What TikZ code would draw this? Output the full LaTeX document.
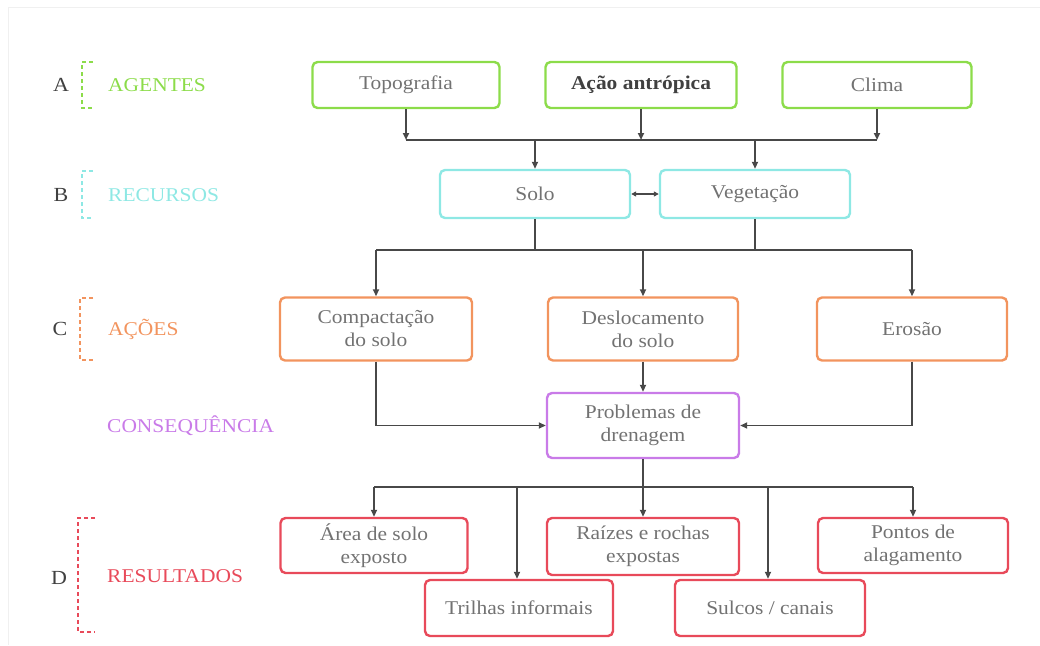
\documentclass[tikz,border=0pt]{standalone}
\usepackage{fontspec}
\setmainfont{Liberation Serif}[FakeStretch=1.1]
\usetikzlibrary{arrows.meta}
\definecolor{cgreen}{HTML}{8CDC4A}
\definecolor{ccyan}{HTML}{8EE8E4}
\definecolor{corange}{HTML}{F2945E}
\definecolor{cpurple}{HTML}{C97BE8}
\definecolor{cred}{HTML}{E84A5A}
\definecolor{ctext}{HTML}{727272}
\definecolor{cline}{HTML}{484848}
\definecolor{cletter}{HTML}{404040}
\tikzset{
  box/.style={draw, line width=2.4pt, rounded corners=5pt, align=center, text=ctext,
    font=\fontsize{19.5}{23}\selectfont, inner sep=0pt, minimum width=190pt},
  ln/.style={draw=cline, line width=1.9pt},
  arr/.style={ln, -{Triangle[length=7pt,width=6pt]}},
  dbl/.style={ln, {Triangle[length=5pt,width=5pt]}-{Triangle[length=5pt,width=5pt]}},
  brk/.style={line width=2.2pt, dash pattern=on 4pt off 3pt},
  lbl/.style={font=\fontsize{19.5}{23}\selectfont, anchor=west, inner sep=0pt},
  letter/.style={font=\fontsize{20}{24}\selectfont, text=cletter, inner sep=0pt}
}
\begin{document}
\begin{tikzpicture}[x=1pt,y=-1pt]
\useasboundingbox (0,0) rectangle (1040,645);
\draw[gray!12, line width=1pt] (8,645) -- (8,7) -- (1040,7);

% left labels
\node[letter] (la) at (61,85) {A};
\draw[brk, cgreen] (93,62) -- (82,62) -- (82,108) -- (93,108);
\node[lbl, text=cgreen] (agentes) at (108,85) {AGENTES};
\node[letter] (lb) at (61,195) {B};
\draw[brk, ccyan] (93,171) -- (82,171) -- (82,218) -- (93,218);
\node[lbl, text=ccyan] (recursos) at (108,195) {RECURSOS};
\node[letter] (lc) at (60,329) {C};
\draw[brk, corange] (93,298) -- (80,298) -- (80,360) -- (93,360);
\node[lbl, text=corange] (acoes) at (108,329) {AÇÕES};
\node[lbl, text=cpurple] (conseq) at (107,426) {CONSEQUÊNCIA};
\node[letter] (ld) at (59,578) {D};
\draw[brk, cred] (95,518) -- (78,518) -- (78,632) -- (95,632);
\node[lbl, text=cred] (result) at (107,576) {RESULTADOS};

% row A
\node[box, draw=cgreen, minimum width=187pt, minimum height=46pt] (topo) at (406,85) {Topografia};
\node[box, draw=cgreen, minimum width=191pt, minimum height=46pt, text=cletter, font=\fontsize{19.5}{23}\selectfont\bfseries] (acao) at (641,85) {Ação antrópica};
\node[box, draw=cgreen, minimum width=189pt, minimum height=46pt] (clima) at (877,85) {Clima};

% row B
\node[box, draw=ccyan, minimum width=190pt, minimum height=48pt] (solo) at (535,194) {Solo};
\node[box, draw=ccyan, minimum width=190pt, minimum height=48pt] (veg) at (755,194) {Vegetação};

% row C
\node[box, draw=corange, minimum width=192pt, minimum height=63pt] (comp) at (376,329) {Compactação\\do solo};
\node[box, draw=corange, minimum width=190pt, minimum height=63pt] (desl) at (643,329) {Deslocamento\\do solo};
\node[box, draw=corange, minimum width=190pt, minimum height=63pt] (eros) at (912,329) {Erosão};

% consequence
\node[box, draw=cpurple, minimum width=192pt, minimum height=65pt] (prob) at (643,425.5) {Problemas de\\drenagem};

% row D
\node[box, draw=cred, minimum width=187pt, minimum height=55pt] (area) at (374,545.5) {Área de solo\\exposto};
\node[box, draw=cred, minimum width=192pt, minimum height=57pt] (raiz) at (643,546.5) {Raízes e rochas\\expostas};
\node[box, draw=cred, minimum width=190pt, minimum height=55pt] (pont) at (913,545.5) {Pontos de\\alagamento};
\node[box, draw=cred, minimum width=188pt, minimum height=56pt] (tril) at (519,608) {Trilhas informais};
\node[box, draw=cred, minimum width=190pt, minimum height=56pt] (sulc) at (770,608) {Sulcos / canais};

% connectors A -> B
\coordinate (busA) at (0,140);
\draw[ln] (topo.south |- busA) -- (clima.south |- busA);
\draw[arr] (topo.south) -- (topo.south |- busA);
\draw[arr] (acao.south) -- (acao.south |- busA);
\draw[arr] (clima.south) -- (clima.south |- busA);
\draw[arr] (solo.north |- busA) -- (solo.north);
\draw[arr] (veg.north |- busA) -- (veg.north);
\draw[dbl] (solo.east) -- (veg.west);

% B -> C
\coordinate (busB) at (0,250);
\draw[ln] (solo.south) -- (solo.south |- busB);
\draw[ln] (veg.south) -- (veg.south |- busB);
\draw[ln] (comp.north |- busB) -- (eros.north |- busB);
\draw[arr] (comp.north |- busB) -- (comp.north);
\draw[arr] (desl.north |- busB) -- (desl.north);
\draw[arr] (eros.north |- busB) -- (eros.north);

% C -> consequence
\draw[arr] (desl.south) -- (prob.north);
\draw[arr] (comp.south) |- (prob.west);
\draw[arr] (eros.south) |- (prob.east);

% consequence -> D
\coordinate (busD) at (0,487);
\coordinate (dtril) at (517,487);
\coordinate (dsulc) at (768,487);
\draw[ln] (prob.south) -- (prob.south |- busD);
\draw[ln] (area.north |- busD) -- (pont.north |- busD);
\draw[arr] (area.north |- busD) -- (area.north);
\draw[arr] (raiz.north |- busD) -- (raiz.north);
\draw[arr] (pont.north |- busD) -- (pont.north);
\draw[arr] (dtril) -- (dtril |- tril.north);
\draw[arr] (dsulc) -- (dsulc |- sulc.north);
\end{tikzpicture}
\end{document}
